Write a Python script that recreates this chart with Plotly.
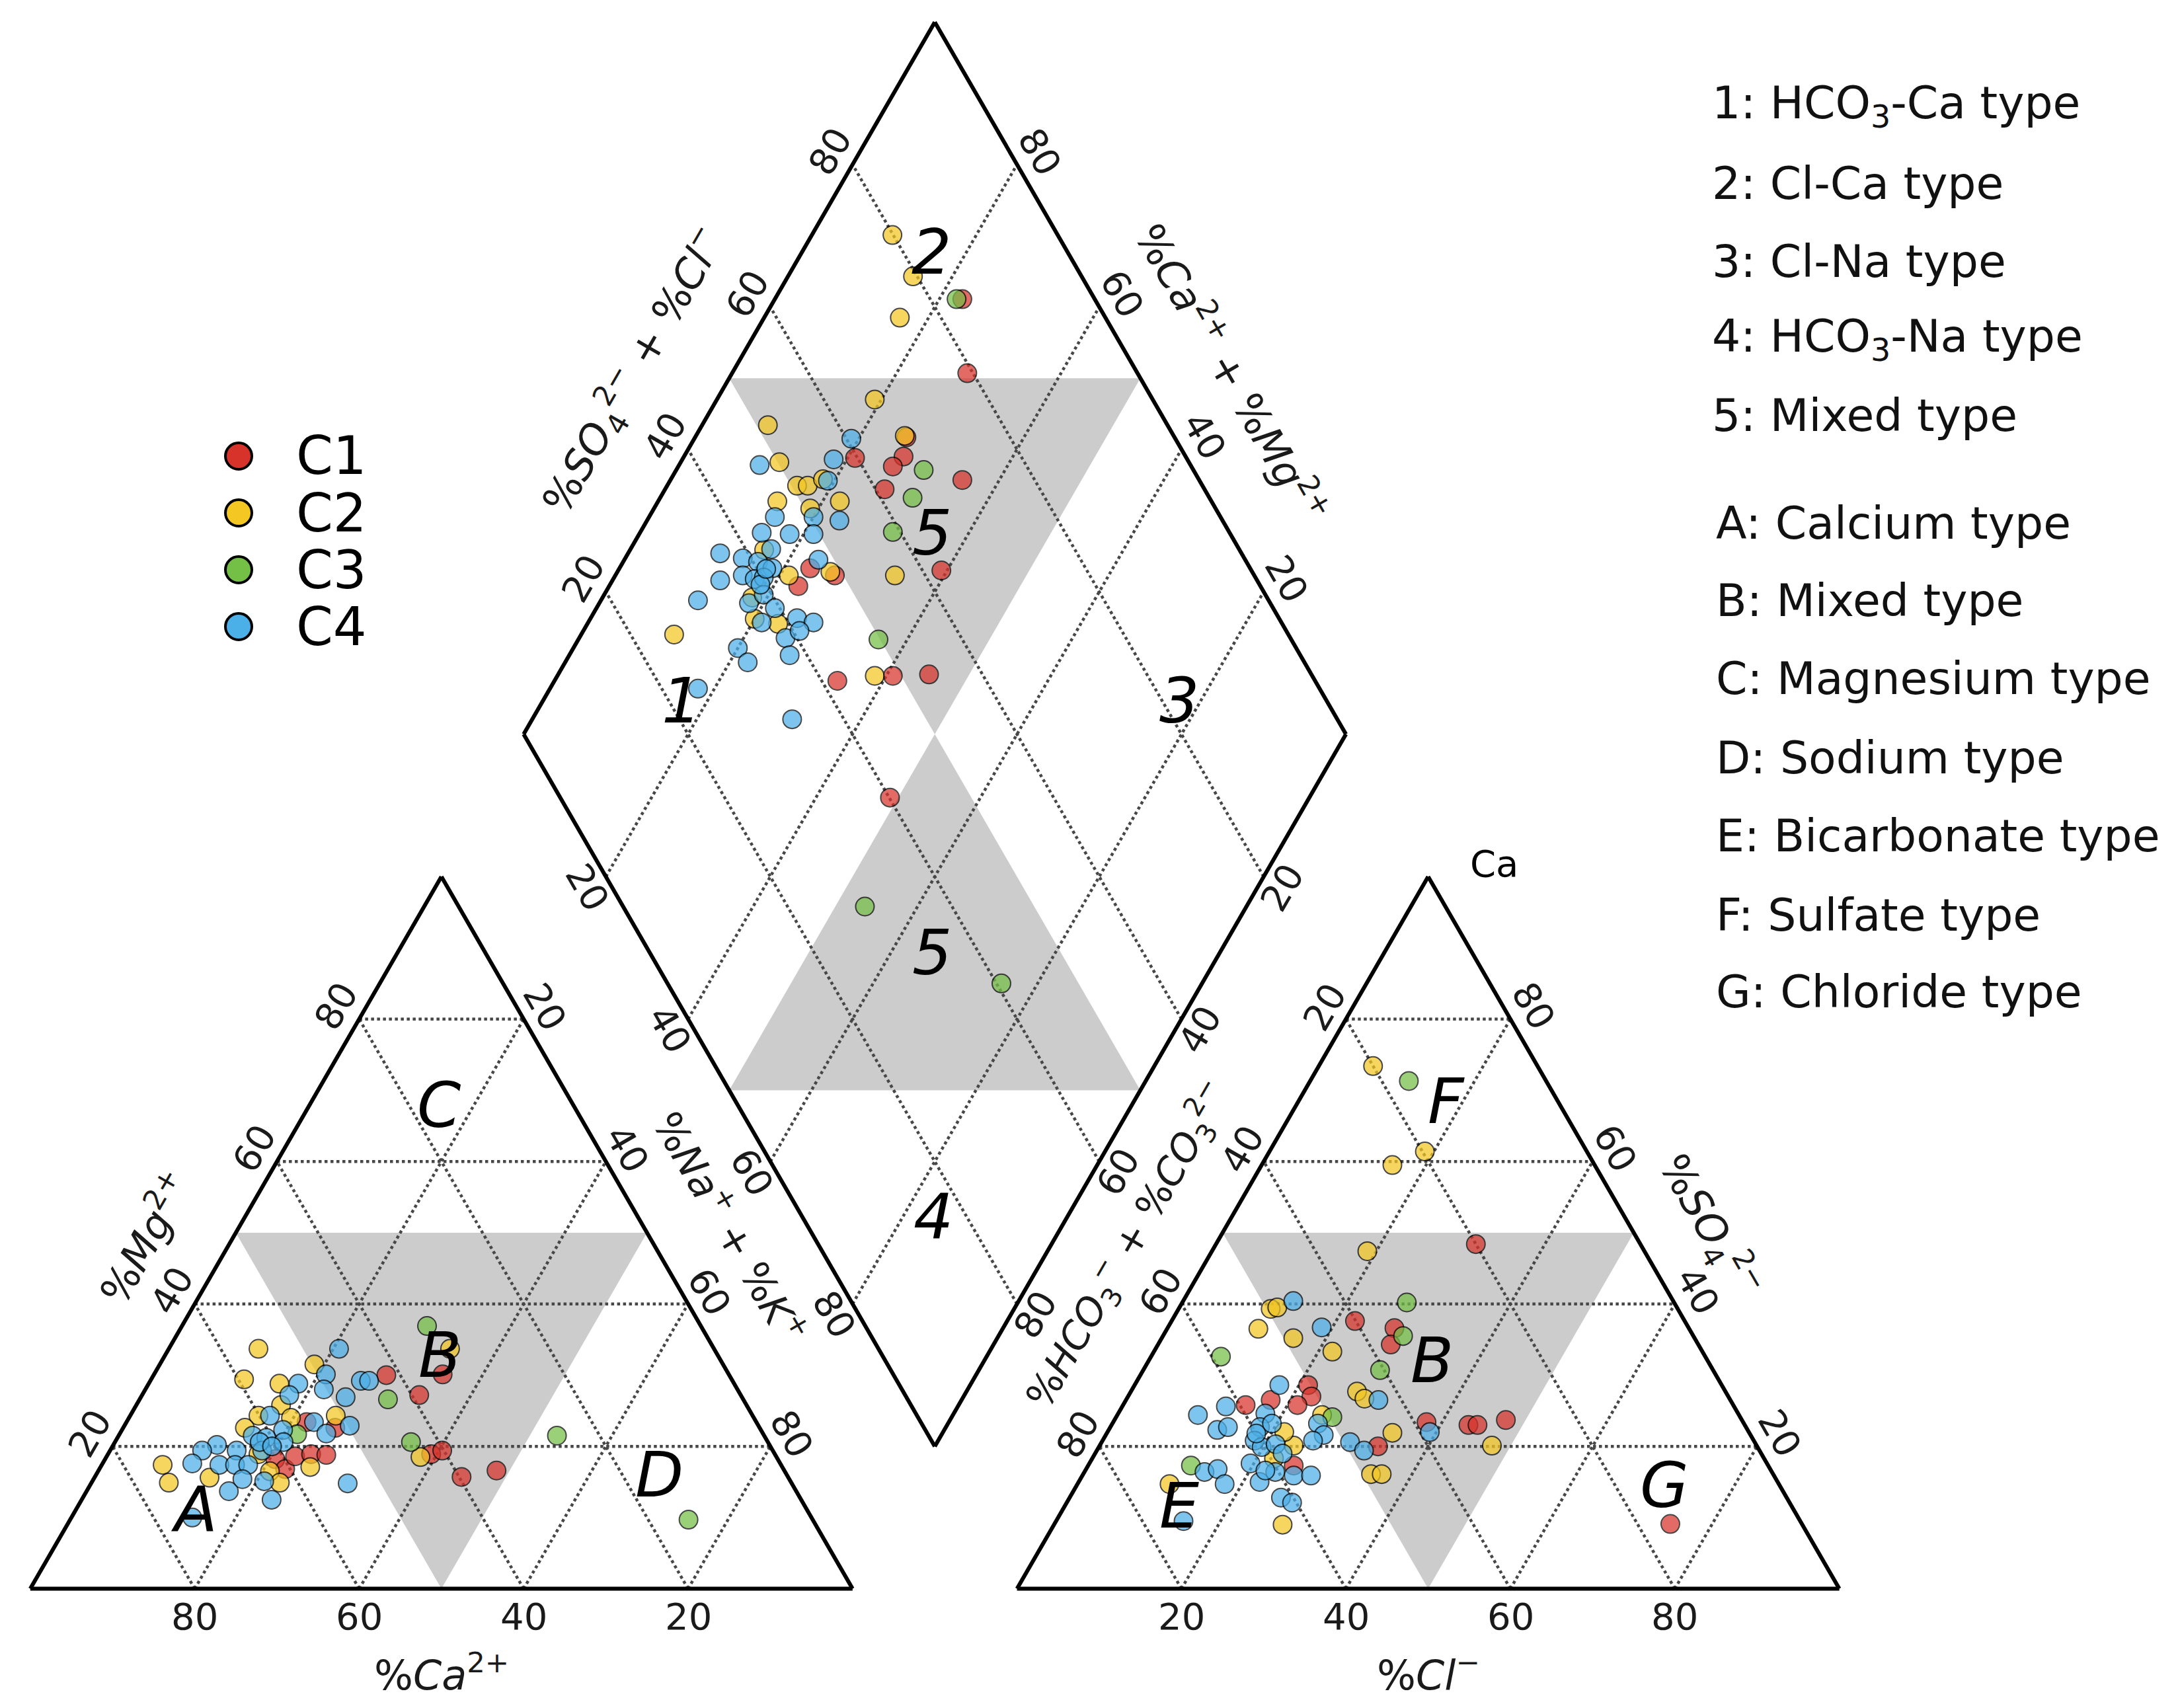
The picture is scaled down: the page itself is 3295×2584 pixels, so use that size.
import numpy as np
import plotly.graph_objects as go

# ---------------------------------------------------------------- data
GROUPS = ["C1", "C2", "C3", "C4"]

# cation triangle samples: (Ca2+, Mg2+, Na+ + K+) in meq %
C1_CATIONS = [(41.7, 30.0, 28.3), (39.1, 27.2, 33.7), (34.8, 30.1, 35.1), (54.7, 23.4, 21.9),
              (51.6, 22.6, 25.8), (61.1, 18.2, 20.7), (60.6, 16.8, 22.6), (58.5, 18.6, 22.9),
              (56.4, 18.9, 24.7), (54.6, 18.8, 26.6), (41.8, 18.9, 39.3), (40.2, 19.4, 40.4),
              (39.7, 15.7, 44.6), (35.0, 16.6, 48.4)]
C2_CATIONS = [(55.4, 33.7, 10.9), (49.7, 31.5, 18.8), (59.3, 29.4, 11.3), (55.3, 28.8, 15.9),
              (56.6, 25.8, 17.6), (60.1, 24.3, 15.6), (56.3, 24.0, 19.7), (50.7, 24.3, 25.0),
              (62.6, 22.6, 14.8), (62.8, 18.9, 18.3), (75.2, 17.4, 7.4), (75.7, 14.9, 9.4),
              (70.4, 15.6, 14.0), (62.6, 16.5, 20.9), (62.2, 14.9, 22.9), (57.4, 17.1, 25.5),
              (43.3, 18.5, 38.2), (32.1, 33.7, 34.2)]
C3_CATIONS = [(33.3, 36.9, 29.8), (43.2, 26.6, 30.2), (56.7, 21.7, 21.6), (43.4, 20.6, 36.0),
              (25.2, 21.5, 53.3), (15.1, 9.7, 75.2)]
C4_CATIONS = [(45.6, 33.7, 20.7), (49.0, 30.1, 20.9), (53.0, 28.8, 18.2), (54.9, 27.2, 17.9),
              (50.3, 28.0, 21.7), (48.2, 26.9, 24.9), (45.2, 29.2, 25.6), (44.2, 29.2, 26.6),
              (58.7, 24.3, 17.0), (62.2, 21.5, 16.3), (60.7, 21.2, 18.1), (58.1, 22.3, 19.6),
              (67.2, 20.2, 12.6), (69.4, 19.4, 11.2), (65.2, 19.4, 15.4), (71.5, 17.6, 10.9),
              (68.3, 17.4, 14.3), (66.4, 17.4, 16.2), (64.8, 17.4, 17.8), (62.1, 19.4, 18.5),
              (69.0, 13.7, 17.3), (66.5, 15.4, 18.1), (64.0, 15.1, 20.9), (64.4, 12.5, 23.1),
              (54.0, 14.8, 31.2), (75.3, 10.0, 14.7), (53.8, 23.4, 22.8), (53.1, 21.8, 25.1),
              (49.7, 22.9, 27.4), (58.9, 20.6, 20.5), (61.8, 20.6, 17.6), (60.6, 20.0, 19.4)]

# anion triangle samples: (HCO3- + CO3 2-, SO4 2-, Cl-) in meq %
C1_ANIONS = [(20.0, 48.4, 31.6), (40.1, 37.6, 22.3), (35.8, 36.6, 27.6), (37.4, 34.3, 28.3),
             (50.3, 28.6, 21.1), (50.7, 27.0, 22.3), (55.9, 26.5, 17.6), (53.0, 25.8, 21.2),
             (59.3, 25.8, 14.9), (38.5, 23.4, 38.1), (33.6, 23.0, 43.4), (32.5, 23.0, 44.5),
             (28.7, 23.7, 47.6), (46.1, 20.0, 33.9), (57.7, 17.3, 25.0), (16.0, 9.1, 74.9)]
C2_ANIONS = [(20.0, 73.4, 6.6), (19.7, 61.4, 18.9), (24.6, 59.5, 15.9), (33.7, 47.4, 18.9),
             (49.5, 39.3, 11.2), (48.6, 39.5, 11.9), (52.4, 36.5, 11.1), (48.8, 35.2, 16.0),
             (45.0, 33.3, 21.7), (44.8, 27.7, 27.5), (44.4, 26.7, 28.9), (50.7, 24.4, 24.9),
             (56.3, 20.1, 23.6), (56.5, 22.0, 21.5), (43.4, 21.9, 34.7), (32.2, 20.1, 47.7),
             (48.9, 16.1, 35.0), (47.6, 16.1, 36.3), (74.1, 14.7, 11.2), (63.2, 9.0, 27.8),
             (59.6, 18.3, 22.1)]
C3_ANIONS = [(16.7, 71.3, 12.0), (32.5, 40.2, 27.3), (35.3, 35.5, 29.2), (40.5, 30.7, 28.8),
             (58.9, 32.6, 8.5), (49.6, 24.1, 26.3), (70.2, 17.3, 12.5)]
C4_ANIONS = [(46.2, 40.4, 13.4), (44.6, 36.7, 18.7), (53.8, 28.6, 17.6), (61.8, 25.6, 12.6),
             (65.8, 24.4, 9.8), (64.5, 22.3, 13.2), (63.0, 22.7, 14.3), (57.5, 24.6, 17.9),
             (59.1, 22.7, 18.2), (57.4, 23.2, 19.4), (60.7, 20.8, 18.5), (60.3, 19.9, 19.8),
             (58.4, 20.3, 21.3), (58.2, 19.0, 22.8), (51.8, 23.2, 25.0), (51.9, 21.6, 26.5),
             (53.6, 20.8, 25.6), (49.2, 20.6, 30.2), (48.1, 19.4, 32.5), (42.8, 26.5, 30.7),
             (38.8, 22.0, 39.2), (69.0, 16.4, 14.6), (67.2, 16.8, 16.0), (67.4, 14.7, 17.9),
             (63.0, 15.0, 22.0), (60.4, 16.4, 23.2), (58.4, 15.9, 25.7), (56.3, 15.9, 27.8),
             (61.5, 12.8, 25.7), (60.5, 12.1, 27.4), (75.0, 9.5, 15.5), (62.8, 17.6, 19.6),
             (61.5, 16.6, 21.9), (60.0, 21.8, 18.2)]

# diamond samples: (Ca2+ + Mg2+, SO4 2- + Cl-) in meq %
C1_DIAMOND = [(77.2, 83.9), (71.4, 79.3), (79.1, 59.7), (73.3, 65.7), (73.9, 63.7), (73.3, 61.1),
              (64.5, 71.2), (60.7, 62.3), (76.8, 46.5), (77.0, 43.8), (73.3, 49.0), (65.6, 41.9),
              (59.2, 49.0), (54.9, 53.5), (74.3, 67.4), (51.0, 40.1)]
C2_DIAMOND = [(90.2, 79.9), (84.8, 79.5), (83.5, 75.0), (80.8, 66.2), (92.0, 51.4), (88.0, 50.2),
              (84.2, 50.7), (82.9, 52.0), (81.5, 54.3), (77.9, 54.8), (85.5, 47.2), (81.0, 50.7),
              (78.9, 43.4), (74.1, 48.7), (66.0, 56.3), (61.4, 46.8), (88.7, 25.3), (83.7, 42.2),
              (81.8, 37.4), (80.0, 36.2), (76.8, 38.7), (74.6, 67.3)]
C3_DIAMOND = [(77.9, 83.2), (69.9, 67.2), (69.3, 63.9), (69.3, 59.1), (63.5, 49.8), (46.4, 29.4),
              (24.4, 40.6)]
C4_DIAMOND = [(80.9, 60.6), (81.6, 57.0), (90.2, 47.6), (80.8, 54.8), (84.7, 45.8), (80.0, 50.5),
              (76.6, 53.4), (85.2, 43.1), (81.7, 46.4), (78.8, 49.3), (88.8, 36.6), (85.7, 39.0),
              (82.9, 43.1), (83.6, 40.6), (81.4, 41.9), (86.9, 34.7), (84.5, 37.8), (82.8, 39.0),
              (81.8, 40.2), (88.2, 30.6), (81.8, 36.6), (80.6, 39.0), (78.3, 39.4), (78.9, 36.8),
              (74.9, 41.4), (72.6, 43.1), (74.9, 38.6), (73.7, 40.8), (80.0, 32.1), (77.8, 32.3),
              (73.2, 37.9), (76.4, 48.1), (82.0, 24.4), (68.4, 33.7), (81.7, 39.3), (82.1, 41.1)]

CATIONS = {"C1": C1_CATIONS, "C2": C2_CATIONS, "C3": C3_CATIONS, "C4": C4_CATIONS}
ANIONS = {"C1": C1_ANIONS, "C2": C2_ANIONS, "C3": C3_ANIONS, "C4": C4_ANIONS}
DIAMOND = {"C1": C1_DIAMOND, "C2": C2_DIAMOND, "C3": C3_DIAMOND, "C4": C4_DIAMOND}

TICKS = [20, 40, 60, 80]

DIAMOND_TYPES = ["1: HCO<sub>3</sub>-Ca type", "2: Cl-Ca type", "3: Cl-Na type",
                 "4: HCO<sub>3</sub>-Na type", "5: Mixed type"]
TRIANGLE_TYPES = ["A: Calcium type", "B: Mixed type", "C: Magnesium type", "D: Sodium type",
                  "E: Bicarbonate type", "F: Sulfate type", "G: Chloride type"]

# ---------------------------------------------------------------- style
COLORS = {"C1": "#d7332a", "C2": "#f4c723", "C3": "#74bf45", "C4": "#4cb0e8"}
FONT = "DejaVu Sans"
W, H = 3295, 2584
PX = 12.44                      # pixels per ternary unit
X0 = -37.8 / PX
YTOP = 2395.6 / PX
S = np.sqrt(3) / 2
OFFSET = 20                     # gap between triangles (Piper standard)


# ---------------------------------------------------------------- transforms
def cation_xy(ca, mg, na):
    t = ca + mg + na
    return 100 * (na + 0.5 * mg) / t, 100 * S * mg / t


def anion_xy(hco3, so4, cl):
    t = hco3 + so4 + cl
    return 100 + OFFSET + 100 * (cl + 0.5 * so4) / t, 100 * S * so4 / t


def diamond_xy(camg, so4cl):
    return 100 + OFFSET / 2 + 0.5 * (so4cl - camg), S * OFFSET + S * (so4cl + camg)


def lines_trace(segs, **kw):
    xs, ys = [], []
    for (xa, ya), (xb, yb) in segs:
        xs += [xa, xb, None]
        ys += [ya, yb, None]
    return go.Scatter(x=xs, y=ys, mode="lines", hoverinfo="skip", **kw)


fig = go.Figure()

# grey "mixed" regions
grey_polys = [
    [cation_xy(50, 50, 0), cation_xy(0, 50, 50), cation_xy(50, 0, 50)],
    [anion_xy(50, 50, 0), anion_xy(0, 50, 50), anion_xy(50, 0, 50)],
    [diamond_xy(100, 50), diamond_xy(50, 100), diamond_xy(50, 50)],
    [diamond_xy(50, 0), diamond_xy(0, 50), diamond_xy(50, 50)],
]
for poly in grey_polys:
    xs = [p[0] for p in poly] + [poly[0][0]]
    ys = [p[1] for p in poly] + [poly[0][1]]
    fig.add_trace(go.Scatter(x=xs, y=ys, mode="lines", fill="toself", fillcolor="#cccccc",
                             line=dict(width=0, color="#cccccc"), hoverinfo="skip"))

# dotted grid
grid = []
for v in TICKS:
    grid += [(cation_xy(100 - v, v, 0), cation_xy(0, v, 100 - v)),
             (cation_xy(100 - v, 0, v), cation_xy(0, 100 - v, v)),
             (cation_xy(v, 0, 100 - v), cation_xy(v, 100 - v, 0)),
             (anion_xy(100 - v, v, 0), anion_xy(0, v, 100 - v)),
             (anion_xy(100 - v, 0, v), anion_xy(0, 100 - v, v)),
             (anion_xy(v, 0, 100 - v), anion_xy(v, 100 - v, 0)),
             (diamond_xy(v, 0), diamond_xy(v, 100)),
             (diamond_xy(0, v), diamond_xy(100, v))]
fig.add_trace(lines_trace(grid, line=dict(color="#474747", width=4.5, dash="dot")))

# outlines
ca_c, mg_c, na_c = cation_xy(100, 0, 0), cation_xy(0, 100, 0), cation_xy(0, 0, 100)
hc_c, so_c, cl_c = anion_xy(100, 0, 0), anion_xy(0, 100, 0), anion_xy(0, 0, 100)
d_b, d_l, d_t, d_r = diamond_xy(0, 0), diamond_xy(100, 0), diamond_xy(100, 100), diamond_xy(0, 100)
outline = [(ca_c, na_c), (na_c, mg_c), (mg_c, ca_c),
           (hc_c, cl_c), (cl_c, so_c), (so_c, hc_c),
           (d_b, d_l), (d_l, d_t), (d_t, d_r), (d_r, d_b)]
fig.add_trace(lines_trace(outline, line=dict(color="black", width=6)))

# samples
for g in GROUPS:
    pts = [cation_xy(*p) for p in CATIONS[g]] + [anion_xy(*p) for p in ANIONS[g]] + \
          [diamond_xy(*p) for p in DIAMOND[g]]
    fig.add_trace(go.Scatter(
        x=[p[0] for p in pts], y=[p[1] for p in pts], mode="markers", name=g,
        marker=dict(size=28, color=COLORS[g], opacity=0.72,
                    line=dict(color="black", width=2))))

# ---------------------------------------------------------------- text
ann = []
TICK_FONT = dict(family=FONT, size=56, color="#1a1a1a")


def tick(pt, normal, angle, text, off=3.2):
    ann.append(dict(x=pt[0] + off * normal[0], y=pt[1] + off * normal[1],
                    text=str(text), showarrow=False, textangle=angle, font=TICK_FONT,
                    xref="x", yref="y"))


N_LEFT, N_RIGHT = (-S, 0.5), (S, 0.5)
N_DL, N_DR = (-S, -0.5), (S, -0.5)
for v in TICKS:
    tick(cation_xy(v, 0, 100 - v), (0, -1.05), 0, v)          # %Ca
    tick(cation_xy(100 - v, v, 0), N_LEFT, -60, v)            # %Mg
    tick(cation_xy(0, 100 - v, v), N_RIGHT, 60, v, 3.0)       # %Na+K
    tick(anion_xy(100 - v, 0, v), (0, -1.05), 0, v)           # %Cl
    tick(anion_xy(v, 100 - v, 0), N_LEFT, -60, v, 3.0)        # %HCO3+CO3
    tick(anion_xy(0, v, 100 - v), N_RIGHT, 60, v)             # %SO4
    tick(diamond_xy(100, v), N_LEFT, -60, v)                  # %SO4+Cl
    tick(diamond_xy(v, 100), N_RIGHT, 60, v)                  # %Ca+Mg
    tick(diamond_xy(100 - v, 0), N_DL, 60, v, 2.6)            # %Na+K (diamond)
    tick(diamond_xy(0, 100 - v), N_DR, -60, v, 2.6)           # %HCO3 (diamond)

TITLE_FONT = dict(family=FONT, size=62, color="#1a1a1a")


def edge_title(p0, p1, frac, normal, dist, angle, text, size=62):
    x = p0[0] + frac * (p1[0] - p0[0]) + dist * normal[0]
    y = p0[1] + frac * (p1[1] - p0[1]) + dist * normal[1]
    ann.append(dict(x=x, y=y, text=text, showarrow=False, textangle=angle,
                    font=dict(TITLE_FONT, size=size), xref="x", yref="y"))


edge_title(ca_c, na_c, 0.5, (0, -1), 10.2, 0, "%<i>Ca</i><sup>2+</sup>")
edge_title(hc_c, cl_c, 0.5, (0, -1), 10.2, 0, "%<i>Cl</i><sup>−</sup>")
edge_title(ca_c, mg_c, 0.44, N_LEFT, 9.3, -60, "%<i>Mg</i><sup>2+</sup>")
edge_title(na_c, mg_c, 0.455, N_RIGHT, 9.2, 60,
           "%<i>Na</i><sup>+</sup> + %<i>K</i><sup>+</sup>", 60)
edge_title(hc_c, so_c, 0.43, N_LEFT, 9.2, -60,
           "%<i>HCO</i><sub>3</sub><sup>−</sup> + %<i>CO</i><sub>3</sub><sup>2−</sup>", 58)
edge_title(cl_c, so_c, 0.46, N_RIGHT, 8.4, 60, "%<i>SO</i><sub>4</sub><sup>2−</sup>")
edge_title(d_l, d_t, 0.45, N_LEFT, 10.5, -60,
           "%<i>SO</i><sub>4</sub><sup>2−</sup> + %<i>Cl</i><sup>−</sup>")
edge_title(d_t, d_r, 0.55, N_RIGHT, 10.0, 60,
           "%<i>Ca</i><sup>2+</sup> + %<i>Mg</i><sup>2+</sup>")

# region letters
BIG = dict(family=FONT, size=95, color="black")
REGION_LABELS = [("A", 19.9, 9.6), ("B", 49.8, 28.4), ("C", 49.7, 58.8), ("D", 76.5, 13.9),
                 ("E", 139.7, 10.1), ("F", 172.2, 59.3), ("B", 170.5, 27.8), ("G", 198.7, 12.6),
                 ("1", 79.2, 108.0), ("2", 109.6, 162.6), ("3", 139.7, 108.0), ("4", 109.8, 45.3),
                 ("5", 109.7, 128.4), ("5", 109.7, 77.4)]
for t, x, y in REGION_LABELS:
    ann.append(dict(x=x, y=y, text="<i>%s</i>" % t, showarrow=False, font=BIG,
                    xref="x", yref="y"))

ann.append(dict(x=178.0, y=88.2, text="Ca", showarrow=False,
                font=dict(family=FONT, size=56, color="black"), xref="x", yref="y"))

# right-hand key
KEY_FONT = dict(family=FONT, size=68, color="#111111")
key_rows_y = [152, 270, 388, 505, 620]
for txt, yp in zip(DIAMOND_TYPES, key_rows_y):
    ann.append(dict(x=2580 / W, y=1 - yp / H, xref="paper", yref="paper", text=txt,
                    showarrow=False, xanchor="left", yanchor="middle", font=KEY_FONT))
key_rows_y2 = [784, 900, 1018, 1138, 1256, 1376, 1492]
for txt, yp in zip(TRIANGLE_TYPES, key_rows_y2):
    ann.append(dict(x=2586 / W, y=1 - yp / H, xref="paper", yref="paper", text=txt,
                    showarrow=False, xanchor="left", yanchor="middle", font=KEY_FONT))

# group legend (drawn manually: large symbols)
shapes = []
LEG_X, LEG_Y0, LEG_DY = 353 / W, 682 / H, 86 / H
for i, g in enumerate(GROUPS):
    yc = 1 - (LEG_Y0 + i * LEG_DY)
    shapes.append(dict(type="circle", xref="paper", yref="paper", xsizemode="pixel",
                       ysizemode="pixel", xanchor=LEG_X, yanchor=yc, x0=-20, x1=20, y0=-20, y1=20,
                       fillcolor=COLORS[g], line=dict(color="black", width=4)))
    ann.append(dict(x=438 / W, y=yc, xref="paper", yref="paper", text=g, showarrow=False,
                    xanchor="left", yanchor="middle",
                    font=dict(family=FONT, size=80, color="black")))

fig.update_layout(
    width=W, height=H, margin=dict(l=0, r=0, t=0, b=0), showlegend=False,
    paper_bgcolor="white", plot_bgcolor="white",
    xaxis=dict(range=[X0, X0 + W / PX], visible=False, domain=[0, 1]),
    yaxis=dict(range=[YTOP - H / PX, YTOP], visible=False, domain=[0, 1]),
    annotations=ann, shapes=shapes,
)

fig.write_html("out.html")
